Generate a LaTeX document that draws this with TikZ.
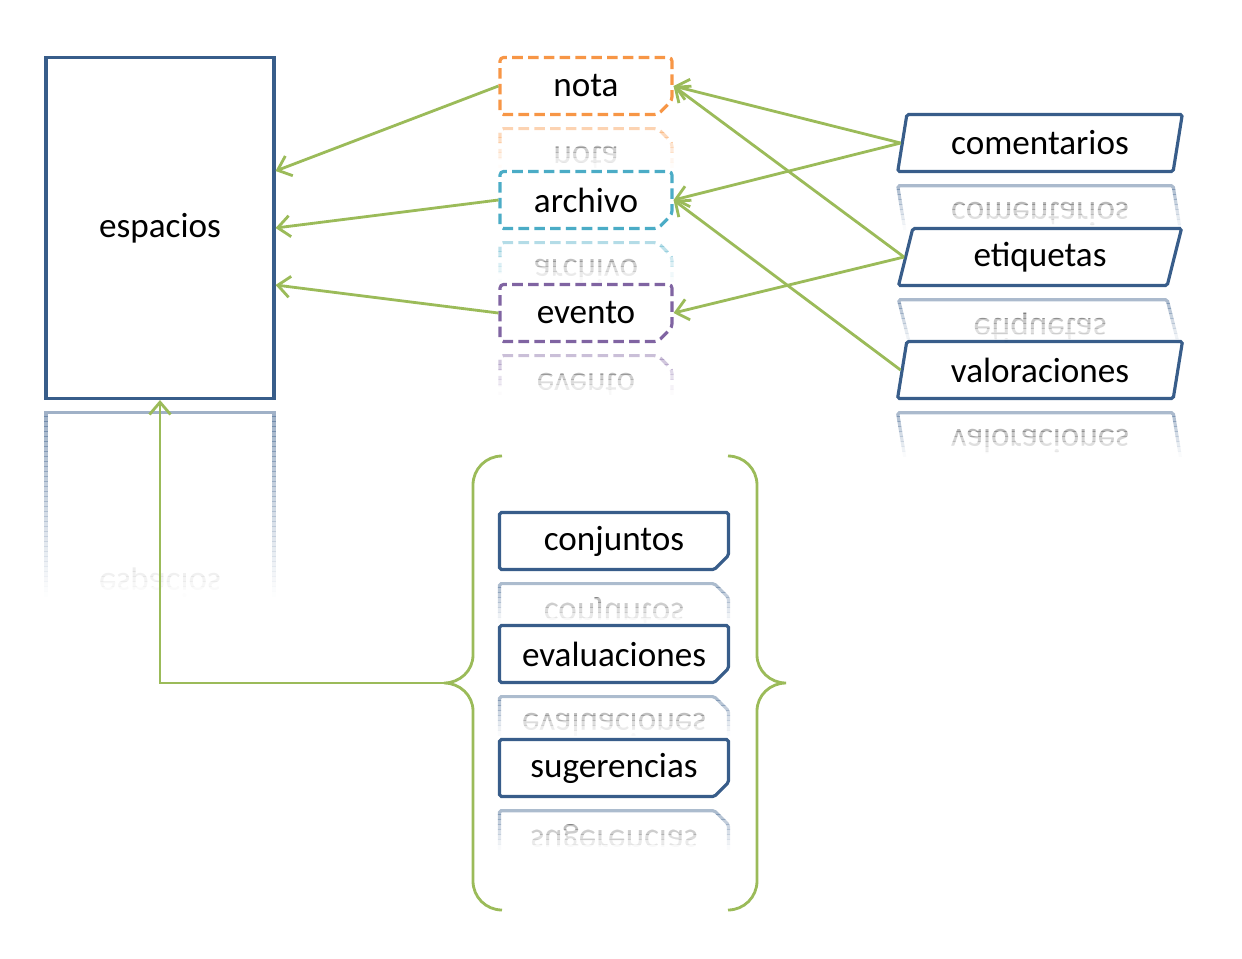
\documentclass[tikz,border=0pt]{standalone}
\usepackage{fontspec}
\setmainfont{Carlito}
\usetikzlibrary{positioning,arrows.meta,shapes.geometric,shapes.misc,calc}
\definecolor{boxblue}{RGB}{56,93,138}
\definecolor{ntorange}{RGB}{247,150,70}
\definecolor{arteal}{RGB}{75,172,198}
\definecolor{evpurple}{RGB}{128,100,162}
\definecolor{lngreen}{RGB}{155,187,89}

\begin{document}
\begin{tikzpicture}[x=0.02cm,y=-0.02cm,font=\fontsize{20}{24}\selectfont]
\tikzset{
  SP/.style={draw=boxblue,line width=1.8pt,rectangle,minimum width=4.56cm,minimum height=6.82cm,inner sep=0pt},
  DN/.style={chamfered rectangle,chamfered rectangle corners=south east,chamfered rectangle sep=4pt,rounded corners=2pt,dash pattern=on 6pt off 3pt,line width=1.8pt,minimum width=3.44cm,minimum height=1.14cm,inner sep=0pt},
  NT/.style={DN,draw=ntorange},
  AR/.style={DN,draw=arteal},
  EV/.style={DN,draw=evpurple},
  PG/.style={draw=boxblue,line width=1.8pt,trapezium,trapezium left angle=76,trapezium right angle=104,trapezium stretches=true,minimum width=5.7cm,minimum height=1.14cm,rounded corners=1pt,inner sep=0pt},
  CJ/.style={draw=boxblue,line width=1.8pt,chamfered rectangle,chamfered rectangle corners=south east,chamfered rectangle sep=4pt,rounded corners=1pt,minimum width=4.58cm,minimum height=1.14cm,inner sep=0pt},
  FL/.style={-{Straight Barb[length=7pt,width=12pt]},line width=1.6pt,lngreen},
  BR/.style={line width=1.6pt,lngreen},
}
\useasboundingbox (0,0) rectangle (1242,958);

\node[SP](espacios) at (160,228){espacios};

\node[NT](nota)    at (586, 86){nota};
\node[AR](archivo) at (586,200){archivo};
\node[EV](evento)  at (586,313){evento};

\node[PG](comentarios)  at (1040,143){comentarios};
\node[PG](etiquetas)    at (1040,257){etiquetas};
\node[PG](valoraciones) at (1040,370){valoraciones};

\node[CJ](conjuntos)    at (614,541){conjuntos};
\node[CJ](evaluaciones) at (614,654){evaluaciones};
\node[CJ](sugerencias)  at (614,768){sugerencias};

% mirrored copies, faded in 5px strips
\foreach \nm/\st/\n in {espacios/SP/38,nota/NT/9,archivo/AR/9,evento/EV/9,
    comentarios/PG/10,etiquetas/PG/10,valoraciones/PG/10,
    conjuntos/CJ/9,evaluaciones/CJ/9,sugerencias/CJ/9}{
  \coordinate(\nm-r) at ($(\nm.south)+(0,11)$);
  \foreach \k [evaluate=\k as \op using {0.5*(1-(\k+0.5)/\n)}] in {1,...,\n}{
    \begin{scope}
      \clip ($(\nm-r)+(-170,\k*5-5)$) rectangle ($(\nm-r)+(170,\k*5)$);
      \node[\st,yscale=-1,anchor=south,opacity=\op](\nm-m\k) at (\nm-r){\nm};
    \end{scope}
  }
}

% braces
\coordinate(brtip) at (444,683);
\draw[BR](502,456) to[out=180,in=90] (473,485) -- (473,655) to[out=270,in=0] (brtip)
  to[out=0,in=90] (473,711) -- (473,881) to[out=270,in=180] (502,910);
\draw[BR](728,456) to[out=0,in=90] (757,485) -- (757,655) to[out=270,in=180] (786,683)
  to[out=180,in=90] (757,711) -- (757,881) to[out=270,in=0] (728,910);

\draw[FL](nota.west)--($(espacios.east)+(0,-57)$);
\draw[FL](archivo.west)--(espacios.east);
\draw[FL](evento.west)--($(espacios.east)+(0,57)$);

\draw[FL](comentarios.west)--(nota.east);
\draw[FL](comentarios.west)--(archivo.east);
\draw[FL](etiquetas.west)--(nota.east);
\draw[FL](etiquetas.west)--(evento.east);
\draw[FL](valoraciones.west)--(archivo.east);

\draw[FL](brtip)-|(espacios.south);

\end{tikzpicture}
\end{document}
